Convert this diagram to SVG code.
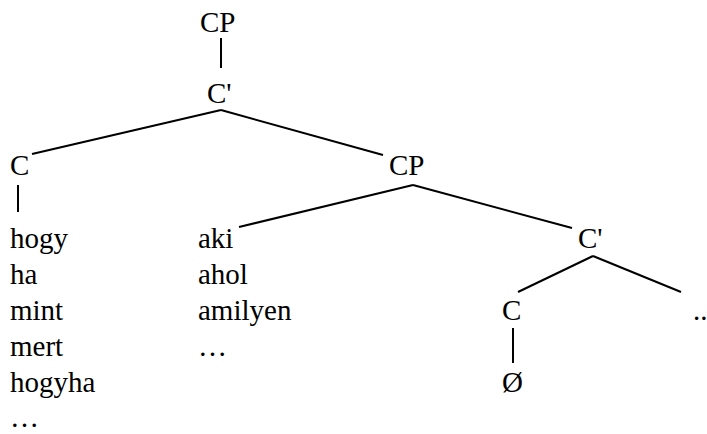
<svg xmlns="http://www.w3.org/2000/svg" width="707" height="434" viewBox="0 0 707 434">
<style>
.t text{font-family:"Liberation Serif","Times New Roman",serif;font-size:29px;fill:#000}
.e line{stroke:#000;stroke-width:2;stroke-linecap:butt}
</style>
<rect width="707" height="434" fill="#fff"/>
<g class="e" id="connectors">
<line x1="221" y1="38" x2="221" y2="68"/>
<line x1="221" y1="110" x2="32" y2="154"/>
<line x1="221" y1="110" x2="383" y2="155"/>
<line x1="18" y1="185" x2="18" y2="212"/>
<line x1="413" y1="185" x2="239" y2="227"/>
<line x1="413" y1="185" x2="572" y2="228"/>
<line x1="593" y1="256" x2="518" y2="292"/>
<line x1="593" y1="256" x2="681" y2="292"/>
<line x1="513" y1="328" x2="513" y2="363"/>
</g>
<g class="t">
<g id="cp-top"><text x="200" y="32">CP</text></g>
<g id="cbar-top"><text x="207" y="103">C'</text></g>
<g id="c-left"><text x="10" y="175">C</text></g>
<g id="cp-mid"><text x="389" y="175">CP</text></g>
<g id="c-list"><text x="10" y="248">hogy</text><text x="10" y="284">ha</text><text x="10" y="320">mint</text><text x="10" y="356">mert</text><text x="10" y="392">hogyha</text><text x="10" y="427">…</text></g>
<g id="spec-list"><text x="198" y="248">aki</text><text x="198" y="284">ahol</text><text x="198" y="320">amilyen</text><text x="198" y="356">…</text></g>
<g id="cbar-right"><text x="578" y="248">C'</text></g>
<g id="c-low"><text x="502" y="320">C</text></g>
<g id="dots"><text x="693" y="320">..</text></g>
<g id="empty"><text x="502" y="392">Ø</text></g>
</g>
</svg>
